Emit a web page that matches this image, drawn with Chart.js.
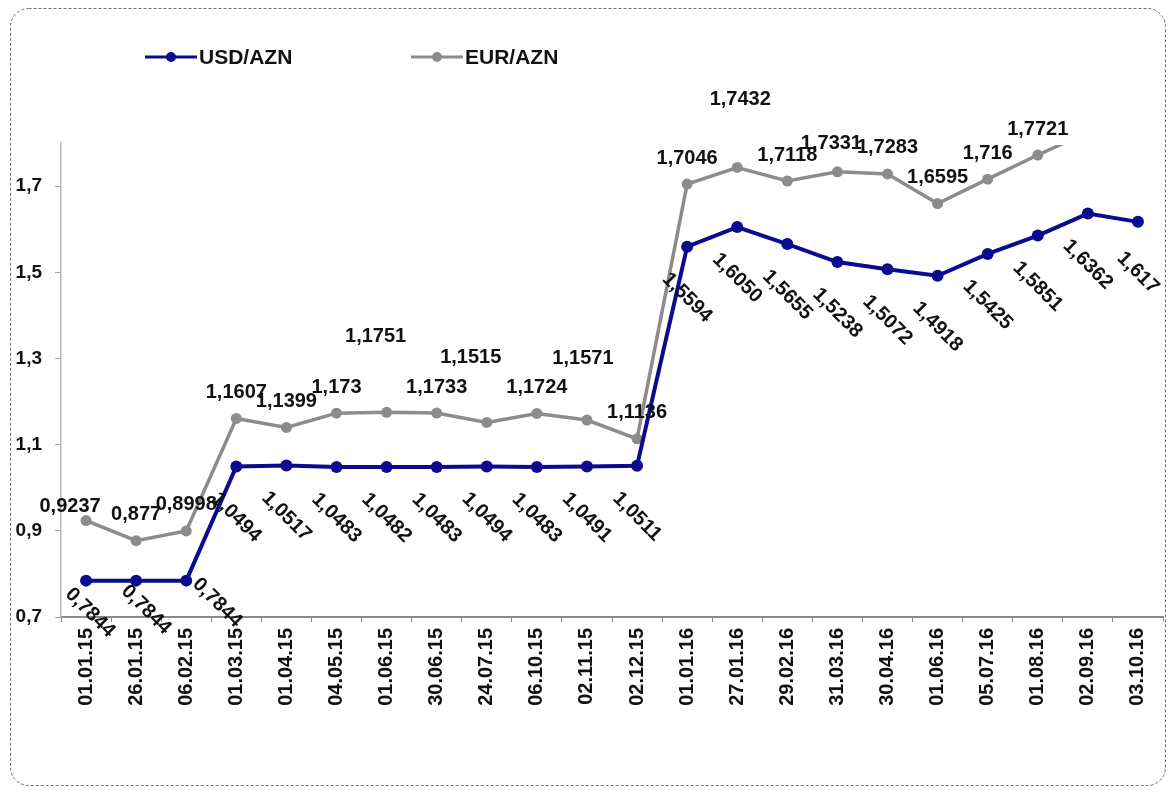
<!DOCTYPE html>
<html>
<head>
<meta charset="utf-8">
<script src="https://cdn.jsdelivr.net/npm/chart.js@4.4.1/dist/chart.umd.min.js"></script>
<style>
  html, body { margin: 0; padding: 0; background: #fff; }
  #wrap { width: 1172px; height: 791px; }
</style>
</head>
<body>
<div id="wrap"><canvas id="rates" width="1172" height="791"></canvas></div>
<script>
// --- Dados ---
const dates = ['01.01.15', '26.01.15', '06.02.15', '01.03.15', '01.04.15', '04.05.15', '01.06.15',
    '30.06.15', '24.07.15', '06.10.15', '02.11.15', '02.12.15', '01.01.16', '27.01.16', '29.02.16',
    '31.03.16', '30.04.16', '01.06.16', '05.07.16', '01.08.16', '02.09.16', '03.10.16'];

const usdValues = [0.7844, 0.7844, 0.7844, 1.0494, 1.0517, 1.0483, 1.0482, 1.0483, 1.0494, 1.0483,
    1.0491, 1.0511, 1.5594, 1.6050, 1.5655, 1.5238, 1.5072, 1.4918, 1.5425, 1.5851, 1.6362, 1.617];
const usdLabels = ['0,7844', '0,7844', '0,7844', '1,0494', '1,0517', '1,0483', '1,0482', '1,0483',
    '1,0494', '1,0483', '1,0491', '1,0511', '1,5594', '1,6050', '1,5655', '1,5238', '1,5072',
    '1,4918', '1,5425', '1,5851', '1,6362', '1,617'];

// the last two EUR points run off the top of the plot (estimated)
const eurValues = [0.9237, 0.877, 0.8998, 1.1607, 1.1399, 1.173, 1.1751, 1.1733, 1.1515, 1.1724,
    1.1571, 1.1136, 1.7046, 1.7432, 1.7118, 1.7331, 1.7283, 1.6595, 1.716, 1.7721, 1.8254, 1.8122];
const eurLabels = ['0,9237', '0,877', '0,8998', '1,1607', '1,1399', '1,173', '1,1751', '1,1733',
    '1,1515', '1,1724', '1,1571', '1,1136', '1,7046', '1,7432', '1,7118', '1,7331', '1,7283',
    '1,6595', '1,716', '1,7721'];

const yTicks = [0.7, 0.9, 1.1, 1.3, 1.5, 1.7];
const seriesNames = ['USD/AZN', 'EUR/AZN'];

const USD_COLOR = '#0b0b8f';
const EUR_COLOR = '#8c8c8c';
const FONT = '"Liberation Sans", Arial, sans-serif';

// --- Ajustes de posição dos rótulos (como no original) ---
const usdShift = { 0: [4, 32], 1: [10, 29], 2: [31, 22] };
const eurShift = { 0: [-16, -14], 6: [-11, -76], 8: [-16, -65], 10: [-4, -62], 13: [3, -68], 15: [-6, -28] };

// moldura arredondada pontilhada
const framePlugin = {
    id: 'frame',
    beforeDraw(chart) {
        const ctx = chart.ctx;
        ctx.save();
        ctx.fillStyle = '#fff';
        ctx.fillRect(0, 0, chart.width, chart.height);
        ctx.strokeStyle = '#6f6f6f';
        ctx.lineWidth = 1;
        ctx.setLineDash([3, 2]);
        ctx.beginPath();
        ctx.roundRect(10.5, 8.5, 1155, 777, 18);
        ctx.stroke();
        ctx.restore();
    }
};

// legenda desenhada à mão (linha + marcador)
const legendPlugin = {
    id: 'customLegend',
    afterDraw(chart) {
        const ctx = chart.ctx;
        const items = [
            { x: 145, color: USD_COLOR, r: 5, w: 3 },
            { x: 411, color: EUR_COLOR, r: 5, w: 3 }
        ];
        ctx.save();
        ctx.font = 'bold 21px ' + FONT;
        ctx.textBaseline = 'middle';
        ctx.textAlign = 'left';
        items.forEach((it, i) => {
            const y = 57;
            ctx.strokeStyle = it.color;
            ctx.lineWidth = it.w;
            ctx.beginPath();
            ctx.moveTo(it.x, y);
            ctx.lineTo(it.x + 52, y);
            ctx.stroke();
            ctx.fillStyle = it.color;
            ctx.beginPath();
            ctx.arc(it.x + 26, y, it.r, 0, Math.PI * 2);
            ctx.fill();
            ctx.fillStyle = '#111';
            ctx.fillText(seriesNames[i], it.x + 54, y + 1);
        });
        ctx.restore();
    }
};

// rótulos de valores
const valueLabelsPlugin = {
    id: 'valueLabels',
    afterDatasetsDraw(chart) {
        const ctx = chart.ctx;
        const yMax = chart.scales.y.max;
        ctx.save();
        ctx.font = 'bold 20px ' + FONT;
        ctx.fillStyle = '#111';
        ctx.textAlign = 'center';
        ctx.textBaseline = 'middle';

        chart.getDatasetMeta(0).data.forEach((pt, i) => {
            if (usdValues[i] > yMax || !usdLabels[i]) return;
            const off = usdShift[i] || [0, 51];
            ctx.save();
            ctx.translate(pt.x + off[0], pt.y + off[1]);
            ctx.rotate(Math.PI / 4);
            ctx.fillText(usdLabels[i], 0, 0);
            ctx.restore();
        });

        chart.getDatasetMeta(1).data.forEach((pt, i) => {
            if (eurValues[i] > yMax || !eurLabels[i]) return;
            const off = eurShift[i] || [0, -26];
            ctx.fillText(eurLabels[i], pt.x + off[0], pt.y + off[1]);
        });
        ctx.restore();
    }
};

new Chart(document.getElementById('rates'), {
    type: 'line',
    data: {
        labels: dates,
        datasets: [{
            label: seriesNames[0],
            data: usdValues,
            borderColor: USD_COLOR,
            backgroundColor: USD_COLOR,
            borderWidth: 4,
            pointRadius: 6,
            pointBorderWidth: 0,
            pointBackgroundColor: USD_COLOR,
            tension: 0,
            clip: 0
        }, {
            label: seriesNames[1],
            data: eurValues,
            borderColor: EUR_COLOR,
            backgroundColor: EUR_COLOR,
            borderWidth: 3.5,
            pointRadius: 5.5,
            pointBorderWidth: 0,
            pointBackgroundColor: EUR_COLOR,
            tension: 0,
            clip: { left: 8, right: 8, bottom: 8, top: -2 }
        }]
    },
    options: {
        responsive: false,
        animation: false,
        devicePixelRatio: 1,
        layout: { padding: { top: 143, left: 0, right: 9, bottom: 0 } },
        plugins: {
            legend: { display: false },
            tooltip: { enabled: false }
        },
        scales: {
            x: {
                offset: true,
                grid: { offset: true, drawOnChartArea: false, drawTicks: true, tickLength: 5, color: '#8a8a8a' },
                border: { display: true, color: '#8a8a8a', width: 2 },
                ticks: {
                    autoSkip: false,
                    minRotation: 90,
                    maxRotation: 90,
                    padding: 6,
                    color: '#111',
                    font: { family: FONT, size: 20, weight: 'bold' }
                },
                afterFit(scale) { scale.height = 174; }
            },
            y: {
                min: 0.7,
                max: 1.8,
                grid: { drawOnChartArea: false, drawTicks: true, tickLength: 6, color: '#aaa' },
                border: { display: true, color: '#b5b5b5', width: 1.5 },
                ticks: {
                    padding: 13,
                    color: '#111',
                    font: { family: FONT, size: 19, weight: 'bold' },
                    callback: v => v.toFixed(1).replace('.', ',')
                },
                afterBuildTicks(scale) { scale.ticks = yTicks.map(v => ({ value: v })); },
                afterFit(scale) { scale.width = 61; }
            }
        }
    },
    plugins: [framePlugin, legendPlugin, valueLabelsPlugin]
});
</script>
</body>
</html>
